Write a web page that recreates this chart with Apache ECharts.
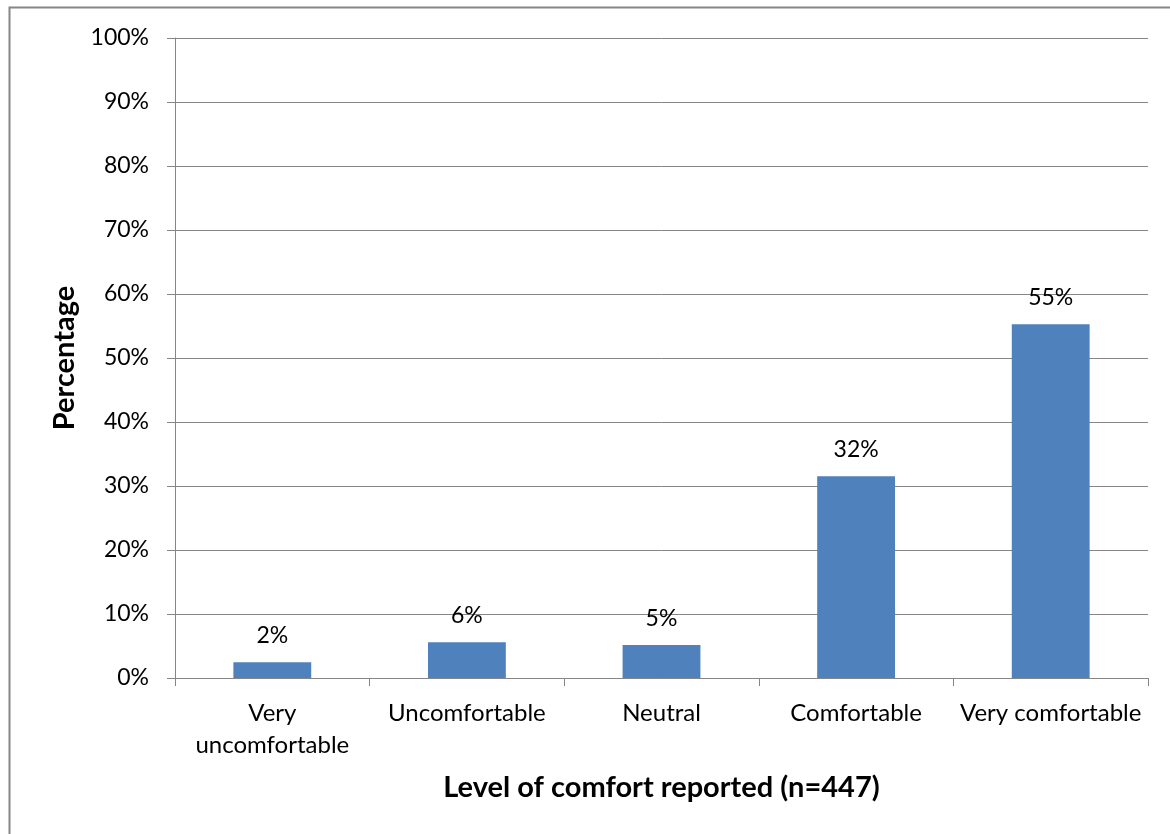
<!DOCTYPE html>
<html>
<head>
<meta charset="utf-8">
<script src="https://cdn.jsdelivr.net/npm/echarts@6/dist/echarts.min.js"></script>
<style>
  html, body { margin: 0; padding: 0; background: #fff; }
  #chart { width: 1170px; height: 834px; }
</style>
</head>
<body>
<div id="chart"></div>
<script>
// Comfort levels reported by respondents (n = 447), share in percent
const categories = ['Very\nuncomfortable', 'Uncomfortable', 'Neutral', 'Comfortable', 'Very comfortable'];
const shares = [2.46, 5.59, 5.15, 31.54, 55.26];
const yTicks = [0, 10, 20, 30, 40, 50, 60, 70, 80, 90, 100];

const FONT = 'Lato, "Open Sans", sans-serif';
const GREY = '#868686';

const chart = echarts.init(document.getElementById('chart'), null, { renderer: 'canvas' });

chart.setOption({
  backgroundColor: '#ffffff',
  animation: false,
  graphic: [{
    type: 'rect',
    shape: { x: 9.5, y: 7.5, width: 1300, height: 1000 },
    style: { fill: 'none', stroke: GREY, lineWidth: 2 },
    silent: true
  }],
  grid: { left: 175, right: 22, top: 38, bottom: 156, containLabel: false },
  xAxis: {
    type: 'category',
    data: categories,
    name: 'Level of comfort reported (n=447)',
    nameLocation: 'middle',
    nameGap: 95,
    nameTextStyle: { fontFamily: FONT, fontSize: 29, fontWeight: 'bold', color: '#000' },
    axisLine: { lineStyle: { color: GREY, width: 1 } },
    axisTick: { show: true, alignWithLabel: false, length: 8, lineStyle: { color: GREY } },
    axisLabel: {
      interval: 0, margin: 19, fontFamily: FONT, fontSize: 24, color: '#000', lineHeight: 32
    }
  },
  yAxis: {
    type: 'value',
    min: yTicks[0],
    max: yTicks[yTicks.length - 1],
    interval: 10,
    name: 'Percentage',
    nameLocation: 'middle',
    nameGap: 96,
    nameRotate: 90,
    nameTextStyle: { fontFamily: FONT, fontSize: 29, fontWeight: 'bold', color: '#000' },
    axisLine: { show: true, lineStyle: { color: GREY, width: 1 } },
    axisTick: { show: true, length: 8, lineStyle: { color: GREY } },
    splitLine: { show: true, lineStyle: { color: GREY, width: 1 } },
    axisLabel: {
      margin: 26, fontFamily: FONT, fontSize: 23, color: '#000',
      formatter: v => v + '%'
    }
  },
  series: [{
    type: 'bar',
    data: shares,
    barWidth: '40%',
    itemStyle: { color: '#4F81BD' },
    label: {
      show: true,
      position: 'top',
      distance: 15,
      fontFamily: FONT,
      fontSize: 23,
      color: '#000',
      formatter: p => Math.round(p.value) + '%'
    }
  }]
});
</script>
</body>
</html>
